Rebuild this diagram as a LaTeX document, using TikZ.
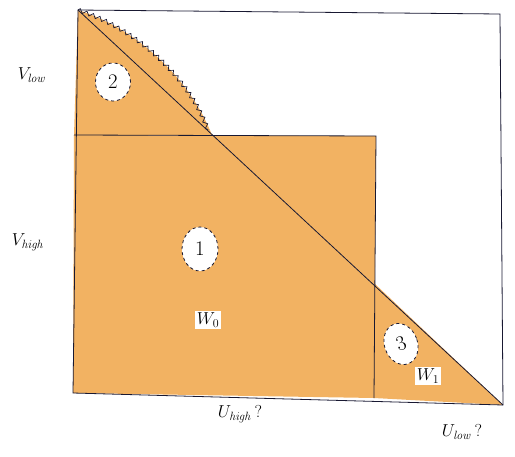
\documentclass[tikz,border=0pt]{standalone}
\usetikzlibrary{decorations.pathmorphing,shapes.geometric}
\definecolor{sketchorange}{RGB}{242,178,98}
\definecolor{inkblue}{RGB}{25,25,50}
\begin{document}
\begin{tikzpicture}[x=1pt,y=-1pt,
  ink/.style={draw=inkblue,line width=0.8pt},
  region/.style={fill=sketchorange},
  bubble/.style={ellipse,draw=inkblue,dashed,fill=white,line width=0.8pt,inner sep=0pt,font=\huge},
  tag/.style={fill=white,inner sep=2pt,font=\LARGE},
  lab/.style={font=\LARGE}]
\useasboundingbox (0,0) rectangle (515,456);
% corners
\coordinate (TL) at (78,10);
\coordinate (TR) at (500,14);
\coordinate (BR) at (503,405);
\coordinate (BL) at (73,393);
\coordinate (ML) at (74,135);
\coordinate (MD) at (212,135);
\coordinate (MR) at (376,136);
\coordinate (VB) at (374,398);
\coordinate (VD) at (374,283);
% fills
\fill[region] (TL) .. controls (140,30) and (190,80) .. (MD) -- (ML) -- cycle;
\fill[region] (ML) -- (MR) -- (VB) -- (BL) -- cycle;
\fill[region] (VD) -- (BR) -- (VB) -- cycle;
% jagged edge
\draw[inkblue,line width=0.7pt,decorate,decoration={zigzag,segment length=7pt,amplitude=2pt}]
  (TL) .. controls (140,30) and (190,80) .. (208,130);
% frame
\draw[ink] (TL) -- (TR) -- (BR) -- (BL) -- cycle;
\draw[ink] (TL) -- (BR);
\draw[ink] (ML) -- (MR) -- (VB);
% bubbles
\node[bubble,minimum width=35pt,minimum height=38pt] (c2) at (113,82) {2};
\node[bubble,minimum width=36pt,minimum height=44pt] (c1) at (200,249) {1};
\node[bubble,minimum width=33pt,minimum height=42pt,rotate=20] (c3) at (401,344) {3};
% tags
\node[tag] (w0) at (208,320) {$W_0$};
\node[tag] (w1) at (428,376) {$W_1$};
% axis labels
\node[lab] (vlow) at (32,75) {$V_{\mathit{low}}$};
\node[lab] (vhigh) at (28,242) {$V_{\mathit{high}}$};
\node[lab] (uhigh) at (240,414) {$U_{\mathit{high}}\,?$};
\node[lab] (ulow) at (462,432) {$U_{\mathit{low}}\,?$};
\end{tikzpicture}
\end{document}
